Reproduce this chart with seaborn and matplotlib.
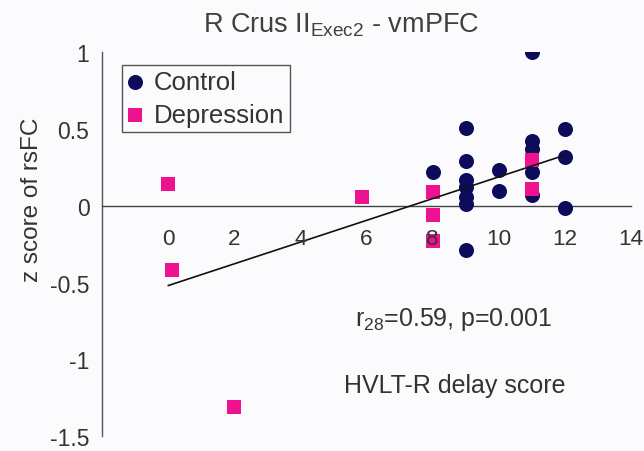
import matplotlib
matplotlib.use("Agg")
import matplotlib.pyplot as plt
import seaborn as sns
import pandas as pd
import numpy as np

# ---- data ----
control_x = [11, 9, 12, 11, 11, 12, 9, 8, 10, 11, 9, 9, 10, 9, 11, 9, 12, 9]
control_y = [1.00, 0.51, 0.50, 0.42, 0.37, 0.32, 0.29, 0.22, 0.23, 0.22,
             0.17, 0.12, 0.095, 0.06, 0.07, 0.01, -0.015, -0.29]
depr_x = [0, 0.12, 2, 5.85, 8, 8, 8, 11, 11]
depr_y = [0.14, -0.42, -1.31, 0.06, 0.09, -0.06, -0.23, 0.30, 0.11]
fit_x = [0, 12]
fit_y = [-0.52, 0.33]
x_ticks = [0, 2, 4, 6, 8, 10, 12, 14]
y_ticks = [-1.5, -1, -0.5, 0, 0.5, 1]
y_tick_labels = ["-1.5", "-1", "-0.5", "0", "0.5", "1"]

NAVY = "#0c0c5a"
PINK = "#ee1290"
TXT = "#333333"
BG = "#fbfbfd"

W, H = 644, 452

sns.set_style("white")
plt.rcParams["font.family"] = ["Liberation Sans", "DejaVu Sans"]
plt.rcParams["mathtext.fontset"] = "custom"
plt.rcParams["mathtext.rm"] = "Liberation Sans"

fig = plt.figure(figsize=(W / 100, H / 100), dpi=100, facecolor=BG)
left_px, right_px = 102, 631
top_px, bot_px = 53.3, 437
ax = fig.add_axes([left_px / W, 1 - bot_px / H,
                   (right_px - left_px) / W, (bot_px - top_px) / H])
ax.set_facecolor(BG)

ctrl = pd.DataFrame({"x": control_x, "y": control_y})
dep = pd.DataFrame({"x": depr_x, "y": depr_y})
fit = pd.DataFrame({"x": fit_x, "y": fit_y})

sns.scatterplot(data=ctrl, x="x", y="y", ax=ax, color=NAVY, marker="o",
                s=117, linewidth=0, label="Control", zorder=3)
sns.scatterplot(data=dep, x="x", y="y", ax=ax, color=PINK, marker="s",
                s=100, linewidth=0, label="Depression", zorder=4)
sns.lineplot(data=fit, x="x", y="y", ax=ax, color="#111111", linewidth=1.2,
             zorder=5, legend=False)

ax.set_xlim(-2, 14)
ax.set_ylim(-1.5, 1)
ax.set_xticks(x_ticks)
ax.set_yticks(y_ticks)
ax.set_yticklabels(y_tick_labels)

for s in ["top", "right"]:
    ax.spines[s].set_visible(False)
ax.spines["bottom"].set_position(("data", 0))
ax.spines["bottom"].set_color("#444444")
ax.spines["left"].set_color("#555555")
ax.spines["bottom"].set_linewidth(1.0)
ax.spines["left"].set_linewidth(1.0)
ax.xaxis.set_zorder(6)

ax.tick_params(axis="x", direction="out", length=4, width=1, color="#444444",
               labelsize=16.2, labelcolor=TXT, pad=12)
ax.tick_params(axis="y", direction="out", length=4, width=1, color="#555555",
               labelsize=16.5, labelcolor=TXT, pad=5)
ax.set_xlabel("")
ax.set_ylabel("")

fig.text(32 / W, 1 - 200 / H, "z score of rsFC", rotation=90, ha="center",
         va="center", fontsize=17.5, color=TXT)

fig.text(341 / W, 1 - 25 / H, r"R Crus $\mathregular{II_{Exec2}}$ - vmPFC",
         ha="center", va="center", fontsize=19.5, color="#404040")

fig.text(454 / W, 1 - 320 / H, r"$\mathregular{r_{28}}$=0.59, p=0.001",
         ha="center", va="center", fontsize=18, color=TXT)
fig.text(455 / W, 1 - 386 / H, "HVLT-R delay score", ha="center",
         va="center", fontsize=18, color=TXT)

leg = ax.legend(loc="upper left", bbox_to_anchor=(122 / W, 1 - 66 / H),
                bbox_transform=fig.transFigure, fontsize=18.5, frameon=True,
                fancybox=False, edgecolor="#555555", framealpha=1,
                facecolor=BG, borderpad=0.2, labelspacing=0.35,
                handlelength=0.6, handletextpad=0.45, borderaxespad=0)
leg.get_frame().set_linewidth(1.0)
for t in leg.get_texts():
    t.set_color(TXT)

fig.savefig("out.png", dpi=100, facecolor=BG)
